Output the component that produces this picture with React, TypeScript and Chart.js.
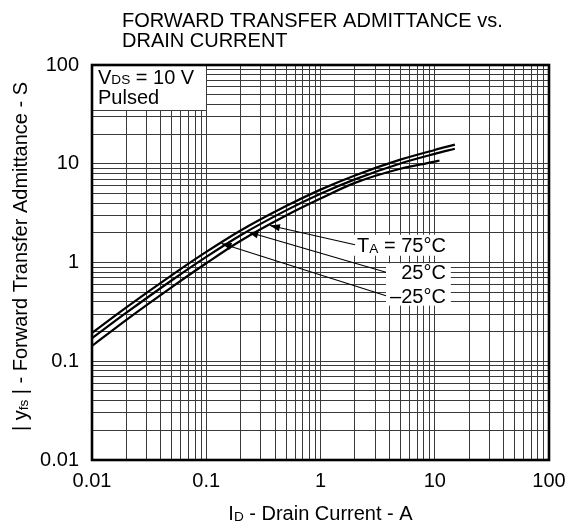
import React, { useEffect, useRef } from "react";
import { Chart, registerables } from "chart.js";

Chart.register(...registerables);

// ---- data ----
const CURRENT_A = [0.01, 0.02, 0.05, 0.1, 0.2, 0.5, 1, 2, 5, 10, 15];
const CURRENT_A_75 = [0.01, 0.02, 0.05, 0.1, 0.2, 0.5, 1, 2, 5, 10, 11];
const YFS_M25 = [0.194, 0.352, 0.746, 1.28, 2.11, 3.73, 5.47, 7.62, 11.0, 13.8, 15.6];
const YFS_25 = [0.171, 0.31, 0.661, 1.14, 1.89, 3.37, 4.97, 6.95, 10.07, 12.6, 14.2];
const YFS_75 = [0.143, 0.263, 0.564, 0.982, 1.66, 2.99, 4.44, 6.4, 8.9, 10.5, 10.8];

const DECADES = [0.01, 0.1, 1, 10, 100];
const MANTISSAS = [1, 2, 3, 4, 5, 6, 7, 8, 9];
const X_TICK_LABELS = ["0.01", "0.1", "1", "10", "100"];
const Y_TICK_LABELS = ["0.01", "0.1", "1", "10", "100"];

const TITLE_LINES = ["FORWARD TRANSFER ADMITTANCE vs.", "DRAIN CURRENT"];
type Part = [string, boolean];
const X_TITLE: Part[] = [["I", false], ["D", true], [" - Drain Current - A", false]];
const Y_TITLE: Part[] = [["| y", false], ["fs", true], [" | - Forward Transfer Admittance - S", false]];
const COND_LINE1: Part[] = [["V", false], ["DS", true], [" = 10 V", false]];
const COND_LINE2: Part[] = [["Pulsed", false]];
const COND_BOX_X = 0.1; // box spans to this current
const COND_BOX_Y = 35; // box spans down to this admittance

const TEMP_LABELS: Part[][] = [
  [["T", false], ["A", true], [" = 75°C", false]],
  [["25°C", false]],
  [["–25°C", false]],
];
const TEMP_LABEL_RIGHT_A = 12.5;
const TEMP_LABEL_BASE_S = [1.285, 0.676, 0.392];
const TEMP_ARROW_AT_A = [0.361, 0.233, 0.136];

const FONT = '"Liberation Sans", Arial, Helvetica, sans-serif';
const SUB_SCALE = 0.68;
const SUB_DROP = 0.8;
const GRID_COLOR = "#3a3a3a";

function richWidth(ctx: CanvasRenderingContext2D, parts: Part[], size: number) {
  let w = 0;
  for (const [t, sub] of parts) {
    ctx.font = `${sub ? size * SUB_SCALE : size}px ${FONT}`;
    w += ctx.measureText(t).width;
  }
  return w;
}

function drawRich(
  ctx: CanvasRenderingContext2D,
  parts: Part[],
  x: number,
  y: number,
  size: number,
  align: "left" | "right" | "center"
) {
  const w = richWidth(ctx, parts, size);
  let cx = align === "left" ? x : align === "right" ? x - w : x - w / 2;
  const left = cx;
  ctx.textAlign = "left";
  ctx.textBaseline = "alphabetic";
  for (const [t, sub] of parts) {
    ctx.font = `${sub ? size * SUB_SCALE : size}px ${FONT}`;
    ctx.fillText(t, cx, y + (sub ? SUB_DROP : 0));
    cx += ctx.measureText(t).width;
  }
  return { left, width: w };
}

function interpLog(xs: number[], ys: number[], x: number) {
  const lx = Math.log10(x);
  for (let i = 0; i < xs.length - 1; i++) {
    const a = Math.log10(xs[i]);
    const b = Math.log10(xs[i + 1]);
    if (lx >= a && lx <= b) {
      const t = (lx - a) / (b - a);
      return Math.pow(10, Math.log10(ys[i]) + t * (Math.log10(ys[i + 1]) - Math.log10(ys[i])));
    }
  }
  return ys[ys.length - 1];
}

const SERIES_FOR_LABEL = [
  [CURRENT_A_75, YFS_75],
  [CURRENT_A, YFS_25],
  [CURRENT_A, YFS_M25],
];

const annotations = {
  id: "annotations",
  afterDraw(chart: any) {
    const { ctx, chartArea: ca } = chart;
    const xs = chart.scales.x;
    const ys = chart.scales.y;
    ctx.save();
    ctx.fillStyle = "#000";
    ctx.strokeStyle = "#000";

    // title
    ctx.font = `20px ${FONT}`;
    ctx.textAlign = "left";
    ctx.textBaseline = "alphabetic";
    ctx.fillText(TITLE_LINES[0], 122, 26.5);
    ctx.fillText(TITLE_LINES[1], 122, 47);

    // axis titles
    drawRich(ctx, X_TITLE, (ca.left + ca.right) / 2, 520, 20, "center");
    ctx.save();
    ctx.translate(27, (ca.top + ca.bottom) / 2 - 6);
    ctx.rotate(-Math.PI / 2);
    drawRich(ctx, Y_TITLE, 0, 0, 20, "center");
    ctx.restore();

    // condition box
    const bx = Math.round(xs.getPixelForValue(COND_BOX_X) - 0.5) + 0.5;
    const by = Math.round(ys.getPixelForValue(COND_BOX_Y) - 0.5) + 0.5;
    ctx.fillStyle = "#fff";
    ctx.fillRect(ca.left, ca.top, bx - ca.left, by - ca.top);
    ctx.strokeStyle = GRID_COLOR;
    ctx.lineWidth = 1;
    ctx.beginPath();
    ctx.moveTo(bx, ca.top);
    ctx.lineTo(bx, by);
    ctx.lineTo(ca.left, by);
    ctx.stroke();
    ctx.fillStyle = "#000";
    drawRich(ctx, COND_LINE1, ca.left + 6, ca.top + 18.5, 20, "left");
    drawRich(ctx, COND_LINE2, ca.left + 6, ca.top + 39, 20, "left");

    // temperature labels
    const rightPx = xs.getPixelForValue(TEMP_LABEL_RIGHT_A);
    const bases = TEMP_LABEL_BASE_S.map((v) => ys.getPixelForValue(v));
    const widths = TEMP_LABELS.map((p) => richWidth(ctx, p, 20));
    const lefts = widths.map((w) => rightPx - w);
    const groupLeft = Math.min(lefts[1], lefts[2]) - 4;
    ctx.fillStyle = "#fff";
    ctx.fillRect(lefts[0] - 7, bases[0] - 17, rightPx + 9 - (lefts[0] - 7), 21);
    ctx.fillRect(groupLeft, bases[1] - 16, rightPx + 5 - groupLeft, bases[2] + 3 - (bases[1] - 16));
    ctx.fillStyle = "#000";
    TEMP_LABELS.forEach((p, i) => drawRich(ctx, p, rightPx, bases[i], 20, "right"));

    // leader lines with arrowheads
    TEMP_LABELS.forEach((_, i) => {
      const [sx, sy] = SERIES_FOR_LABEL[i];
      const tipX = xs.getPixelForValue(TEMP_ARROW_AT_A[i]);
      const tipY = ys.getPixelForValue(interpLog(sx, sy, TEMP_ARROW_AT_A[i])) + 1;
      const x0 = i === 0 ? lefts[0] - 2 : groupLeft;
      const y0 = bases[i] - 7;
      ctx.strokeStyle = "#000";
      ctx.lineWidth = 1.1;
      ctx.beginPath();
      ctx.moveTo(x0, y0);
      ctx.lineTo(tipX, tipY);
      ctx.stroke();
      const ang = Math.atan2(tipY - y0, tipX - x0);
      const L = 10;
      const W = 3.6;
      const cx = tipX - L * Math.cos(ang);
      const cy = tipY - L * Math.sin(ang);
      ctx.beginPath();
      ctx.moveTo(tipX, tipY);
      ctx.lineTo(cx + W * Math.sin(ang), cy - W * Math.cos(ang));
      ctx.lineTo(cx - W * Math.sin(ang), cy + W * Math.cos(ang));
      ctx.closePath();
      ctx.fill();
    });

    // frame
    ctx.strokeStyle = "#000";
    ctx.lineWidth = 2.6;
    ctx.strokeRect(ca.left, ca.top, ca.right - ca.left, ca.bottom - ca.top);
    ctx.restore();
  },
};

export default function App() {
  const ref = useRef<HTMLCanvasElement>(null);
  useEffect(() => {
    const canvas = ref.current!;
    const gridTicks: number[] = [];
    DECADES.slice(0, -1).forEach((d) => MANTISSAS.forEach((m) => gridTicks.push(+(m * d).toPrecision(3))));
    gridTicks.push(DECADES[DECADES.length - 1]);
    const labelFor = (labels: string[]) => (v: any) => {
      const n = Number(v);
      const i = DECADES.findIndex((d) => Math.abs(d - n) / d < 1e-6);
      return i >= 0 ? labels[i] : "";
    };
    const line = (xsArr: number[], ysArr: number[]) => ({
      data: xsArr.map((x, i) => ({ x, y: ysArr[i] })),
      showLine: true,
      borderColor: "#000",
      borderWidth: 2.2,
      pointRadius: 0,
      cubicInterpolationMode: "monotone" as const,
      fill: false,
    });
    const tickFont = { family: FONT, size: 20 };
    const chart = new Chart(canvas, {
      type: "scatter",
      data: {
        datasets: [
          line(CURRENT_A, YFS_M25),
          line(CURRENT_A, YFS_25),
          line(CURRENT_A_75, YFS_75),
        ],
      },
      options: {
        animation: false,
        responsive: false,
        devicePixelRatio: 1,
        layout: { padding: { top: 65, right: 26, left: 0, bottom: 0 } },
        plugins: { legend: { display: false }, tooltip: { enabled: false }, title: { display: false } },
        scales: {
          x: {
            type: "logarithmic",
            min: 0.01,
            max: 100,
            position: "bottom",
            afterBuildTicks: (s: any) => {
              s.ticks = gridTicks.map((v) => ({ value: v }));
            },
            afterFit: (s: any) => {
              s.height = 67;
            },
            grid: { color: GRID_COLOR, lineWidth: 1, drawTicks: false },
            border: { display: false },
            ticks: {
              autoSkip: false,
              maxRotation: 0,
              minRotation: 0,
              padding: 9,
              color: "#000",
              font: tickFont,
              callback: labelFor(X_TICK_LABELS),
            },
          },
          y: {
            type: "logarithmic",
            min: 0.01,
            max: 100,
            position: "left",
            afterBuildTicks: (s: any) => {
              s.ticks = gridTicks.map((v) => ({ value: v }));
            },
            afterFit: (s: any) => {
              s.width = 92;
            },
            grid: { color: GRID_COLOR, lineWidth: 1, drawTicks: false },
            border: { display: false },
            ticks: {
              autoSkip: false,
              padding: 13,
              color: "#000",
              font: tickFont,
              callback: labelFor(Y_TICK_LABELS),
            },
          },
        },
      } as any,
      plugins: [annotations],
    });
    return () => chart.destroy();
  }, []);
  return (
    <div style={{ position: "absolute", left: 0, top: 0, width: 575, height: 527, background: "#fff" }}>
      <canvas ref={ref} width={575} height={527} style={{ display: "block", width: 575, height: 527 }} />
    </div>
  );
}
